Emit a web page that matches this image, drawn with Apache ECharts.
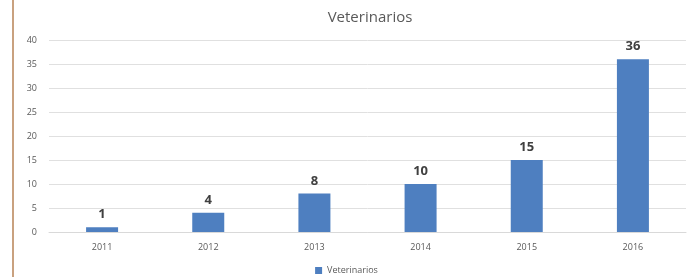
<!DOCTYPE html>
<html>
<head>
<meta charset="utf-8">
<script src="https://cdn.jsdelivr.net/npm/echarts@6/dist/echarts.min.js"></script>
<style>
  html, body { margin: 0; padding: 0; background: #fff; }
  #main { width: 693px; height: 277px; }
</style>
</head>
<body>
<div id="main"></div>
<script>
// data
const years = ['2011', '2012', '2013', '2014', '2015', '2016'];
const veterinarios = [1, 4, 8, 10, 15, 36];

const chart = echarts.init(document.getElementById('main'));

chart.setOption({
    backgroundColor: '#fff',
    animation: false,
    title: {
        text: 'Veterinarios',
        left: 365,
        textAlign: 'center',
        top: 5,
        textStyle: { fontFamily: 'Open Sans', fontSize: 15, fontWeight: 'normal', color: '#595959' }
    },
    legend: {
        bottom: -3,
        left: 'center',
        itemWidth: 7,
        itemHeight: 7,
        icon: 'rect',
        textStyle: { fontFamily: 'Open Sans', fontSize: 9, color: '#595959' },
        data: ['Veterinarios']
    },
    grid: { left: 49, right: 7, top: 40, bottom: 45 },
    xAxis: {
        type: 'category',
        data: years,
        axisLine: { lineStyle: { color: '#d9d9d9' } },
        axisTick: { show: false },
        axisLabel: { fontFamily: 'Open Sans', fontSize: 9, color: '#595959', margin: 11 }
    },
    yAxis: {
        type: 'value',
        min: 0,
        max: 40,
        interval: 5,
        axisLine: { show: false },
        axisTick: { show: false },
        splitLine: { lineStyle: { color: '#e0e0e0' } },
        axisLabel: { fontFamily: 'Open Sans', fontSize: 9, color: '#595959', margin: 12 }
    },
    graphic: [{
        type: 'line',
        shape: { x1: 13, y1: 0, x2: 13, y2: 277 },
        style: { stroke: '#c9a17f', lineWidth: 2 }
    }],
    series: [{
        name: 'Veterinarios',
        type: 'bar',
        data: veterinarios,
        barWidth: 32,
        itemStyle: { color: '#4e7fc0' },
        label: {
            show: true,
            position: 'top',
            distance: 6,
            fontFamily: 'Open Sans',
            fontSize: 13,
            fontWeight: 'bold',
            color: '#404040'
        }
    }]
});
</script>
</body>
</html>
